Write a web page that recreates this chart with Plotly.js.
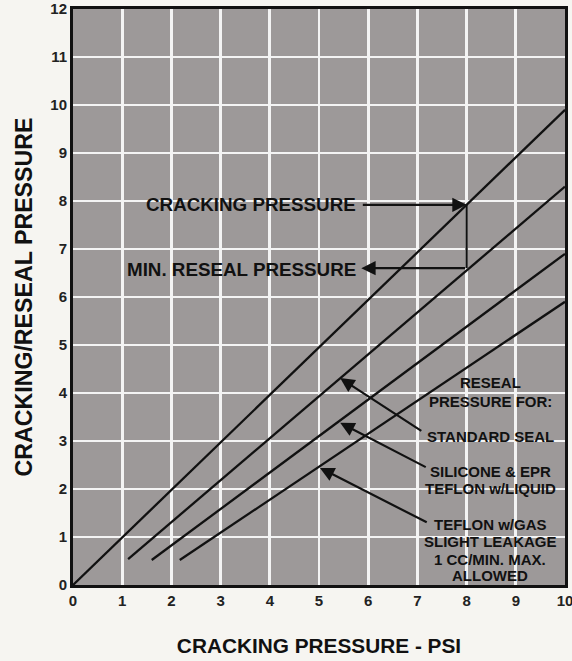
<!DOCTYPE html>
<html><head><meta charset="utf-8">
<script src="https://cdn.plot.ly/plotly-3.0.1.min.js"></script>
<style>html,body{margin:0;padding:0;background:#f6f5f1;}</style>
</head><body><div id="chart" style="width:572px;height:661px;"></div>
<script>
// Data
const crackingX = [0, 10];
const crackingY = [0, 9.9];
const standardX = [1.12, 10];
const standardY = [0.54, 8.3];
const siliconeX = [1.6, 10];
const siliconeY = [0.52, 6.9];
const teflonGasX = [2.17, 10];
const teflonGasY = [0.52, 5.9];
const bracketX = [8, 8];
const bracketY = [7.92, 6.6];
const xTicks = [0,1,2,3,4,5,6,7,8,9,10];
const yTicks = [0,1,2,3,4,5,6,7,8,9,10,11,12];

const FONT = '"Liberation Sans", Arial, sans-serif';
const line = {color:'#111', width:2.3};
const mk = (x,y)=>({x, y, mode:'lines', type:'scatter', line, hoverinfo:'skip', showlegend:false});
const traces = [mk(crackingX,crackingY), mk(standardX,standardY), mk(siliconeX,siliconeY), mk(teflonGasX,teflonGasY), mk(bracketX,bracketY)];

const txt = (text, x, y, xanchor, size) => ({text, x, y, xref:'x', yref:'y', showarrow:false, xanchor: xanchor||'center', yanchor:'middle',
  font:{family:FONT, size:size||18.8, color:'#111', weight:'bold'}, align:'center'});
const arr = (x, y, ax, ay) => ({text:'', x, y, ax, ay, xref:'x', yref:'y', axref:'x', ayref:'y', showarrow:true,
  arrowhead:2, arrowsize:1.3, arrowwidth:2.2, arrowcolor:'#111', standoff:0, startstandoff:0});

const RX = 8.48, RS = 15;
const annotations = [
  txt('CRACKING PRESSURE', 5.8, 7.92, 'right'),
  txt('MIN. RESEAL PRESSURE', 5.8, 6.58, 'right'),
  arr(8, 7.92, 5.86, 7.92),
  arr(5.86, 6.6, 8, 6.6),
  txt('RESEAL', RX, 4.21, 'center', RS),
  txt('PRESSURE FOR:', RX, 3.83, 'center', RS),
  txt('STANDARD SEAL', RX, 3.10, 'center', RS),
  txt('SILICONE &amp; EPR', RX, 2.375, 'center', RS),
  txt('TEFLON w/LIQUID', RX, 2.02, 'center', RS),
  txt('TEFLON w/GAS', RX, 1.27, 'center', RS),
  txt('SLIGHT LEAKAGE', RX, 0.90, 'center', RS),
  txt('1 CC/MIN. MAX.', RX, 0.54, 'center', RS),
  txt('ALLOWED', RX, 0.19, 'center', RS),
  arr(5.43, 4.31, 7.11, 3.19),
  arr(5.43, 3.38, 7.2, 2.44),
  arr(5.02, 2.44, 7.22, 1.29)
];

const layout = {
  width:572, height:661,
  margin:{l:73, r:7, t:9, b:76},
  paper_bgcolor:'#f6f5f1', plot_bgcolor:'#9d9999',
  showlegend:false,
  xaxis:{range:[0,10], tickvals:xTicks, ticktext:xTicks.map(String), showgrid:true, gridcolor:'#f4f4f4', gridwidth:2.6,
    zeroline:false, showline:true, linecolor:'#111', linewidth:3, mirror:true, ticks:'', fixedrange:true, ticklabeloverflow:'allow',
    tickfont:{family:FONT, size:15, color:'#222', weight:'bold'},
    title:{text:'CRACKING PRESSURE - PSI', standoff:31, font:{family:FONT, size:20.8, color:'#111', weight:'bold'}}},
  yaxis:{range:[0,12], tickvals:yTicks, ticktext:yTicks.map(String), showgrid:true, gridcolor:'#f4f4f4', gridwidth:2.6,
    zeroline:false, showline:true, linecolor:'#111', linewidth:3, mirror:true, ticks:'', fixedrange:true, ticklabeloverflow:'allow',
    tickfont:{family:FONT, size:15, color:'#222', weight:'bold'},
    title:{text:'CRACKING/RESEAL PRESSURE', standoff:12, font:{family:FONT, size:23.2, color:'#111', weight:'bold'}}},
  annotations
};
Plotly.newPlot('chart', traces, layout, {staticPlot:true, displayModeBar:false});
</script></body></html>
